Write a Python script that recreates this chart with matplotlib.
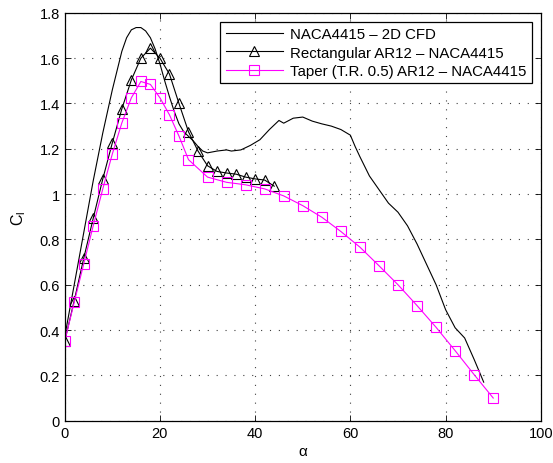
import numpy as np
import matplotlib
matplotlib.use("Agg")
import matplotlib.pyplot as plt
from matplotlib.ticker import FuncFormatter

plt.rcParams["font.family"] = ["Liberation Sans", "DejaVu Sans"]
plt.rcParams["font.size"] = 10

# 2D CFD curve
alpha_cfd = [0, 2, 4, 6, 8, 10, 12, 13, 14, 15, 16, 17, 18, 19, 20, 21, 22, 23, 24, 25,
             26, 27, 28, 29, 30, 32, 34, 35, 37, 39, 41, 43, 45, 46, 48, 50, 52, 54, 56,
             58, 60, 61, 62, 64, 66, 68, 70, 72, 74, 76, 78, 80, 82, 84, 86, 88]
cl_cfd = [0.37, 0.60, 0.83, 1.06, 1.27, 1.46, 1.63, 1.69, 1.725, 1.735, 1.735, 1.72, 1.69,
          1.64, 1.575, 1.50, 1.43, 1.365, 1.31, 1.275, 1.255, 1.235, 1.21, 1.19, 1.182,
          1.19, 1.195, 1.19, 1.195, 1.215, 1.24, 1.285, 1.325, 1.313, 1.335, 1.34, 1.322,
          1.31, 1.30, 1.285, 1.26, 1.21, 1.165, 1.08, 1.02, 0.96, 0.92, 0.86, 0.78, 0.69,
          0.60, 0.49, 0.41, 0.365, 0.27, 0.17]

# rectangular wing AR12
alpha_rect = [0, 2, 4, 6, 8, 10, 12, 14, 16, 18, 20, 22, 24, 26, 28, 30, 32, 34, 36, 38,
              40, 42, 44]
cl_rect = [0.35, 0.53, 0.717, 0.894, 1.067, 1.226, 1.376, 1.504, 1.60, 1.644, 1.60, 1.53,
           1.40, 1.275, 1.19, 1.125, 1.10, 1.093, 1.088, 1.075, 1.067, 1.062, 1.035]

# taper wing T.R. 0.5 AR12
alpha_tap = [0, 2, 4, 6, 8, 10, 12, 14, 16, 18, 20, 22, 24, 26, 30, 34, 38, 42, 46, 50,
             54, 58, 62, 66, 70, 74, 78, 82, 86, 90]
cl_tap = [0.35, 0.523, 0.692, 0.861, 1.023, 1.177, 1.314, 1.425, 1.497, 1.484, 1.425, 1.35,
          1.256, 1.152, 1.075, 1.052, 1.041, 1.023, 0.992, 0.949, 0.898, 0.835, 0.766,
          0.684, 0.60, 0.508, 0.412, 0.309, 0.203, 0.10]

fig = plt.figure(figsize=(5.53, 4.64), dpi=100)
ax = fig.add_axes([0.117, 0.0912, 0.861, 0.879])

ax.plot(alpha_cfd, cl_cfd, "-", color="black", lw=0.8, label="NACA4415 \u2013 2D CFD")
ax.plot(alpha_rect, cl_rect, "-^", color="black", lw=0.8, ms=7.5, mfc="none", mew=0.8,
        label="Rectangular AR12 \u2013 NACA4415")
ax.plot(alpha_tap, cl_tap, "-s", color="#ff00ff", lw=0.8, ms=6.8, mfc="none", mew=0.8,
        label="Taper (T.R. 0.5) AR12 \u2013 NACA4415")

ax.set_xlim(0, 100)
ax.set_ylim(0, 1.8)
ax.set_xticks(np.arange(0, 101, 20))
ax.set_yticks(np.arange(0, 1.81, 0.2))
ax.yaxis.set_major_formatter(FuncFormatter(lambda v, p: "%g" % round(v, 1)))
ax.tick_params(direction="in", top=True, right=True, length=4, width=0.6, labelsize=10.5)
ax.grid(True, ls=(0, (1, 7)), color="#404040", lw=0.8)
for s in ax.spines.values():
    s.set_linewidth(0.9)

ax.set_xlabel("\u03b1", fontsize=11, labelpad=3)
ax.set_ylabel(r"C$_\mathregular{l}$", fontsize=11.5, labelpad=8)

leg = ax.legend(loc="upper right", fontsize=10.8, handlelength=3.8, borderaxespad=0.6,
                fancybox=False, framealpha=1, edgecolor="black", borderpad=0.35,
                labelspacing=0.3, handletextpad=0.5)
leg.get_frame().set_linewidth(0.9)

fig.savefig("out.png", dpi=100)
